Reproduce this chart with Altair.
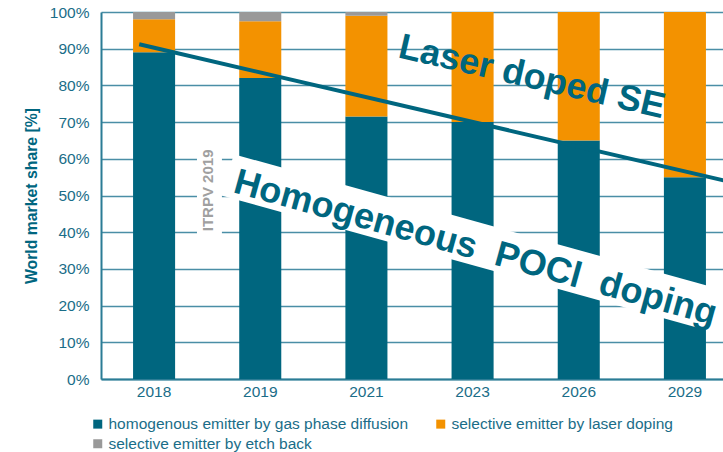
import altair as alt
import pandas as pd

# Market share of emitter technologies (percent of world market)
years = ["2018", "2019", "2021", "2023", "2026", "2029"]
homogeneous = [89, 82, 71.5, 70, 65, 55]
laser_doping = [9, 15.5, 27.5, 30, 35, 45]
etch_back = [2, 2.5, 1, 0, 0, 0]

series_names = [
    "homogenous emitter by gas phase diffusion",
    "selective emitter by laser doping",
    "selective emitter by etch back",
]
series_colors = ["#00667f", "#f39200", "#999999"]

# Trend line (x in category units, 0 = left edge of the plot, 1 unit = one year slot)
trend_pos = [0.36, 6.0]
trend_share = [91.2, 53.2]

TEAL = "#00667f"
TEXT_TEAL = "#1a6d88"
FONT = "Liberation Sans"
PLOT_W, PLOT_H = 622, 367
SLOT_RANGE = [0, 637]  # six year slots, the last one runs past the right edge
NBSP = "\u00a0"

rows = []
for i, y in enumerate(years):
    for rank, (name, vals) in enumerate(zip(series_names, [homogeneous, laser_doping, etch_back])):
        rows.append({"year": y, "series": name, "share": vals[i], "rank": rank})
bars_df = pd.DataFrame(rows)

# legend fills column by column: teal + grey in the first column, orange in the second
legend_order = [series_names[0], series_names[2], series_names[1]]
legend_colors = [series_colors[0], series_colors[2], series_colors[1]]

y_scale = alt.Scale(domain=[0, 100], nice=False)
y_axis = alt.Axis(
    values=list(range(0, 101, 10)),
    labelExpr="datum.value + '%'",
    labelOverlap=False,
    labelFontSize=15.5,
    title="World market share [%]",
    titleFontWeight="bold",
    titleFontSize=15.8,
    titleColor=TEAL,
    titlePadding=10,
    labelPadding=12,
    grid=True,
)
pos_scale = alt.Scale(domain=[0, 6], range=SLOT_RANGE)

bars = alt.Chart(bars_df).mark_bar(clip=True).encode(
    x=alt.X(
        "year:N",
        sort=years,
        scale=alt.Scale(range=SLOT_RANGE, paddingInner=0.604, paddingOuter=0.302),
        axis=alt.Axis(title=None, labelAngle=0, labelPadding=5, grid=False,
                      labelFontSize=15.5),
    ),
    y=alt.Y("share:Q", stack=True, scale=y_scale, axis=y_axis),
    color=alt.Color(
        "series:N",
        scale=alt.Scale(domain=legend_order, range=legend_colors),
        legend=alt.Legend(
            title=None,
            orient="none",
            legendX=-11,
            legendY=404,
            columns=2,
            columnPadding=24,
            rowPadding=3,
            symbolType="square",
            symbolSize=81,
            symbolStrokeWidth=0,
            labelOffset=3,
            labelFontSize=15.5,
            labelLimit=0,
            labelColor=TEXT_TEAL,
            padding=0,
        ),
    ),
    order=alt.Order("rank:Q"),
)

# White band behind the rotated "Homogeneous POCl doping" caption
band_df = pd.DataFrame({"x0": [1.196], "y0": [55.6], "x1": [6.05], "y1": [16.6]})
band = alt.Chart(band_df).mark_rule(
    color="white", strokeWidth=43, strokeCap="butt", clip=True
).encode(
    x=alt.X("x0:Q", scale=pos_scale, axis=None),
    y=alt.Y("y0:Q", scale=y_scale, axis=y_axis),
    x2="x1:Q",
    y2="y1:Q",
)

# White box behind the vertical source note
box_df = pd.DataFrame({"x0": [0.904], "x1": [1.139], "y0": [37.9], "y1": [65.1]})
box = alt.Chart(box_df).mark_rect(color="white").encode(
    x=alt.X("x0:Q", scale=pos_scale, axis=None),
    x2="x1:Q",
    y=alt.Y("y0:Q", scale=y_scale, axis=y_axis),
    y2="y1:Q",
)

trend_df = pd.DataFrame({"pos": trend_pos, "share": trend_share})
trend = alt.Chart(trend_df).mark_line(color=TEAL, strokeWidth=4, clip=True).encode(
    x=alt.X("pos:Q", scale=pos_scale, axis=None),
    y=alt.Y("share:Q", scale=y_scale, axis=y_axis),
)

def caption(text, pos, share, angle, size, color, weight="bold", align="left", baseline="alphabetic"):
    df = pd.DataFrame({"pos": [pos], "share": [share], "label": [text]})
    return alt.Chart(df).mark_text(
        angle=angle,
        fontSize=size,
        fontWeight=weight,
        color=color,
        align=align,
        baseline=baseline,
        font=FONT,
        clip=True,
    ).encode(
        x=alt.X("pos:Q", scale=pos_scale, axis=None),
        y=alt.Y("share:Q", scale=y_scale, axis=y_axis),
        text="label:N",
    )

laser_label = caption("Laser doped SE", 2.787, 87.7, 13, 36, TEAL)
poci_label = caption(f"Homogeneous{NBSP}{NBSP}POCl{NBSP}{NBSP}doping",
                     1.234, 50.95, 15.5, 36.1, TEAL)
source_label = caption("ITRPV 2019", 1.008, 51.4, 270, 15, "#a0a0a0",
                       align="center", baseline="middle")

chart = (
    alt.layer(bars, band, box, trend, laser_label, poci_label, source_label)
    .resolve_scale(x="independent")
    .properties(
        width=PLOT_W,
        height=PLOT_H,
        autosize=alt.AutoSizeParams(type="none"),
        padding={"left": 101, "top": 12, "right": 0, "bottom": 73},
    )
    .configure(font=FONT)
    .configure_view(stroke=None)
    .configure_axis(
        domainColor="#2b7c95",
        domainWidth=2,
        ticks=False,
        gridColor="#4a8ea6",
        gridWidth=1.5,
        labelFontSize=15.5,
        labelColor=TEXT_TEAL,
        labelFont=FONT,
        titleFont=FONT,
    )
)

chart.save("out.html", embed_options={"renderer": "svg", "actions": False})
